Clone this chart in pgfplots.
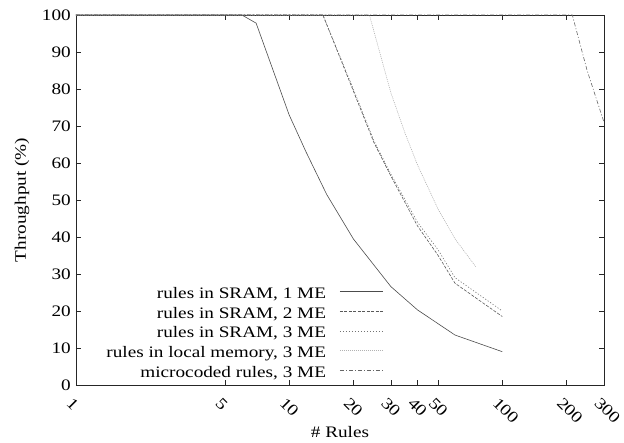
\documentclass[border=0pt]{standalone}
\usepackage{fontspec}
\setmainfont{Liberation Serif}[FakeStretch=1.2]
\usepackage{pgfplots}
\pgfplotsset{compat=1.18}
\begin{document}
\begin{tikzpicture}
\path[use as bounding box] (-76bp,-58bp) rectangle (548bp,385bp);
\begin{axis}[
  scale only axis,
  width=528bp, height=370bp,
  xmode=log,
  xmin=1, xmax=300,
  ymin=0, ymax=100,
  font=\fontsize{16bp}{19bp}\selectfont,
  /pgf/number format/assume math mode=true,
  xtick={1,5,10,20,30,40,50,100,200,300},
  xticklabels={1,5,10,20,30,40,50,100,200,300},
  minor xtick={},
  ytick={0,10,...,100},
  major tick length=5bp,
  tick style={black!85, line width=0.6bp},
  axis line style={black!85, line width=0.8bp},
  xticklabel style={rotate=-45, anchor=north west, inner sep=1bp, xshift=5bp, yshift=-9bp},
  yticklabel style={inner sep=1bp, xshift=-4bp},
  every axis x label/.style={at={(axis description cs:0.5,0)}, yshift=-47bp, anchor=center},
  every axis y label/.style={at={(axis description cs:0,0.5)}, xshift=-54bp, rotate=90, anchor=center},
  xlabel={\# Rules},
  ylabel={Throughput (\%)},
  legend plot pos=right,
  legend cell align=right,
  legend image code/.code={\path (0bp,0bp); \draw[#1] (12bp,0.3em) -- (55bp,0.3em);},
  legend style={draw=none, fill=none, at={(0.582,0.005)}, anchor=south east,
    row sep=0.75bp, inner sep=0pt,
    nodes={text height=12bp, text depth=4bp, inner sep=1.5bp}},
]
\addplot[black!70, line width=0.6bp] coordinates {
(1,100) (6,100) (7,97.8) (10,73) (12,63) (15,51.5) (20,39.5) (30,26.6) (40,20.3) (60,13.5) (100,9)};
\addlegendentry{rules in SRAM, 1 ME}
\addplot[black!65, line width=0.6bp, dash pattern=on 3bp off 1.5bp] coordinates {
(1,100) (14.4,100) (20,79.5) (25,65.5) (30,56.5) (40,43) (50,35) (60,27.5) (100,18.5)};
\addlegendentry{rules in SRAM, 2 ME}
\addplot[black!55, line width=0.6bp, dash pattern=on 1.2bp off 1.8bp] coordinates {
(1,100) (14.4,100) (20,80) (25,66) (30,57) (40,44) (50,36.5) (60,29) (100,20)};
\addlegendentry{rules in SRAM, 3 ME}
\addplot[black!30, line width=0.6bp, dash pattern=on 1bp off 1bp] coordinates {
(1,100) (23.8,100) (30,79) (35,68) (40,59.5) (50,47.5) (60,39.5) (75,32)};
\addlegendentry{rules in local memory, 3 ME}
\addplot[black!60, line width=0.6bp, dash pattern=on 4bp off 2bp on 1bp off 2bp] coordinates {
(1,100) (213,100) (250,85) (300,71)};
\addlegendentry{microcoded rules, 3 ME}
\end{axis}
\end{tikzpicture}
\end{document}
